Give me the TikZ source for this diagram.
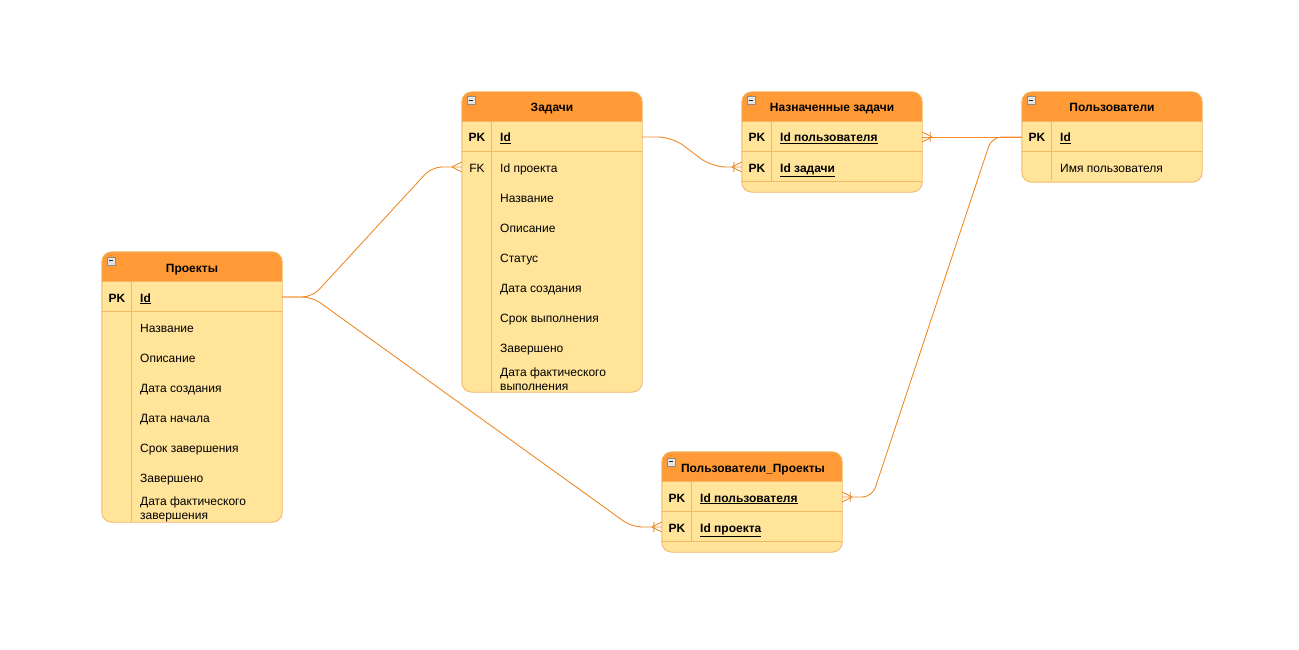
\documentclass[tikz,border=0pt]{standalone}
\usepackage{fontspec}
\setmainfont{Liberation Sans}
\usetikzlibrary{calc}
\definecolor{headfill}{HTML}{FF9A36}
\definecolor{bodyfill}{HTML}{FFE49A}
\definecolor{edgecol}{HTML}{F3B866}
\definecolor{linecol}{HTML}{F08C28}
\definecolor{iconfill}{HTML}{E4E4E4}
\definecolor{iconedge}{HTML}{8C8C8C}

\tikzset{
  every node/.style={font=\fontsize{12}{14}\selectfont, inner sep=0pt, text=black},
  tbl/.style={fill=bodyfill, minimum width=180pt, rounded corners=10pt},
  frame/.style={draw=edgecol, line width=0.9pt},
  title/.style={font=\fontsize{12}{14}\selectfont\bfseries, text height=10.5pt, text depth=0.5pt},
  keycol/.style={text height=10.5pt, text depth=0.5pt},
  pkkey/.style={keycol, font=\fontsize{12}{14}\selectfont\bfseries},
  field/.style={anchor=west, text height=10.5pt, text depth=0.5pt},
  pkfield/.style={field, font=\fontsize{12}{14}\selectfont\bfseries},
  twoline/.style={anchor=west, align=left},
  minusicon/.style={draw=iconedge, fill=iconfill, line width=0.6pt,
    minimum size=8pt,
    path picture={\draw[black!85, line width=0.9pt]
      ([xshift=1.8pt]path picture bounding box.west) --
      ([xshift=-1.8pt]path picture bounding box.east);}},
  conn/.style={draw=linecol, line width=0.9pt},
  pics/crowmany/.style={code={\draw[conn] (-10,0) -- (0,-5) (-10,0) -- (0,5);}},
  pics/crowonemany/.style={code={\draw[conn] (-10,0) -- (0,-5) (-10,0) -- (0,5) (-8,-5) -- (-8,5);}}
}

\begin{document}
\begin{tikzpicture}[x=1pt,y=-1pt]
\fill[white] (0,0) rectangle (1299,650);
\useasboundingbox (0,0) rectangle (1299,650);

% ---------- Проекты ----------
\node[tbl, minimum height=270pt] (proj) at (192,387) {};
\fill[headfill] ([yshift=-30pt]proj.north west) [rounded corners=10pt] -- (proj.north west) -- (proj.north east) [sharp corners] -- ([yshift=-30pt]proj.north east) -- cycle;
\draw[frame, rounded corners=10pt] (proj.north west) rectangle (proj.south east);
\draw[frame] ([yshift=-30pt]proj.north west) -- ([yshift=-30pt]proj.north east)
             ([yshift=-60pt]proj.north west) -- ([yshift=-60pt]proj.north east)
             ([xshift=30pt,yshift=-30pt]proj.north west) -- ([xshift=30pt]proj.south west);
\node[minusicon] (proj-icon) at ([xshift=9pt,yshift=-9pt]proj.north west) {};
\node[title] (proj-title) at (192,267) {Проекты};
\node[pkkey] (proj-pk) at (117,297) {PK};
\node[pkfield] (proj-id) at (140,297) {\underline{Id}};
\node[field] (proj-f1) at (140,327) {Название};
\node[field] (proj-f2) at (140,357) {Описание};
\node[field] (proj-f3) at (140,387) {Дата создания};
\node[field] (proj-f4) at (140,417) {Дата начала};
\node[field] (proj-f5) at (140,447) {Срок завершения};
\node[field] (proj-f6) at (140,477) {Завершено};
\node[twoline] (proj-f7) at (140,509) {Дата фактического\\завершения};

% ---------- Задачи ----------
\node[tbl, minimum height=300pt] (task) at (552,242) {};
\fill[headfill] ([yshift=-30pt]task.north west) [rounded corners=10pt] -- (task.north west) -- (task.north east) [sharp corners] -- ([yshift=-30pt]task.north east) -- cycle;
\draw[frame, rounded corners=10pt] (task.north west) rectangle (task.south east);
\draw[frame] ([yshift=-30pt]task.north west) -- ([yshift=-30pt]task.north east)
             ([yshift=-60pt]task.north west) -- ([yshift=-60pt]task.north east)
             ([xshift=30pt,yshift=-30pt]task.north west) -- ([xshift=30pt]task.south west);
\node[minusicon] (task-icon) at ([xshift=9pt,yshift=-9pt]task.north west) {};
\node[title] (task-title) at (552,107) {Задачи};
\node[pkkey] (task-pk) at (477,137) {PK};
\node[pkfield] (task-id) at (500,137) {\underline{Id}};
\node[keycol] (task-fk) at (477,167) {FK};
\node[field] (task-pid) at (500,167) {Id проекта};
\node[field] (task-f1) at (500,197) {Название};
\node[field] (task-f2) at (500,227) {Описание};
\node[field] (task-f3) at (500,257) {Статус};
\node[field] (task-f4) at (500,287) {Дата создания};
\node[field] (task-f5) at (500,317) {Срок выполнения};
\node[field] (task-f6) at (500,347) {Завершено};
\node[twoline] (task-f7) at (500,379) {Дата фактического\\выполнения};

% ---------- Назначенные задачи ----------
\node[tbl, minimum height=100pt] (asg) at (832,142) {};
\fill[headfill] ([yshift=-30pt]asg.north west) [rounded corners=10pt] -- (asg.north west) -- (asg.north east) [sharp corners] -- ([yshift=-30pt]asg.north east) -- cycle;
\draw[frame, rounded corners=10pt] (asg.north west) rectangle (asg.south east);
\draw[frame] ([yshift=-30pt]asg.north west) -- ([yshift=-30pt]asg.north east)
             ([yshift=-60pt]asg.north west) -- ([yshift=-60pt]asg.north east)
             ([yshift=-90pt]asg.north west) -- ([yshift=-90pt]asg.north east)
             ([xshift=30pt,yshift=-30pt]asg.north west) -- ([xshift=30pt,yshift=-90pt]asg.north west);
\node[minusicon] (asg-icon) at ([xshift=9pt,yshift=-9pt]asg.north west) {};
\node[title] (asg-title) at (832,107) {Назначенные задачи};
\node[pkkey] (asg-pk1) at (757,137) {PK};
\node[pkfield] (asg-uid) at (780,137) {\underline{Id пользователя}};
\node[pkkey] (asg-pk2) at (757,167) {PK};
\node[pkfield] (asg-tid) at (780,167) {\underline{Id задачи}};

% ---------- Пользователи ----------
\node[tbl, minimum height=90pt] (usr) at (1112,137) {};
\fill[headfill] ([yshift=-30pt]usr.north west) [rounded corners=10pt] -- (usr.north west) -- (usr.north east) [sharp corners] -- ([yshift=-30pt]usr.north east) -- cycle;
\draw[frame, rounded corners=10pt] (usr.north west) rectangle (usr.south east);
\draw[frame] ([yshift=-30pt]usr.north west) -- ([yshift=-30pt]usr.north east)
             ([yshift=-60pt]usr.north west) -- ([yshift=-60pt]usr.north east)
             ([xshift=30pt,yshift=-30pt]usr.north west) -- ([xshift=30pt,yshift=2pt]usr.south west);
\node[minusicon] (usr-icon) at ([xshift=9pt,yshift=-9pt]usr.north west) {};
\node[title] (usr-title) at (1112,107) {Пользователи};
\node[pkkey] (usr-pk) at (1037,137) {PK};
\node[pkfield] (usr-id) at (1060,137) {\underline{Id}};
\node[field] (usr-name) at (1060,167) {Имя пользователя};

% ---------- Пользователи_Проекты ----------
\node[tbl, minimum height=100pt] (up) at (752,502) {};
\fill[headfill] ([yshift=-30pt]up.north west) [rounded corners=10pt] -- (up.north west) -- (up.north east) [sharp corners] -- ([yshift=-30pt]up.north east) -- cycle;
\draw[frame, rounded corners=10pt] (up.north west) rectangle (up.south east);
\draw[frame] ([yshift=-30pt]up.north west) -- ([yshift=-30pt]up.north east)
             ([yshift=-60pt]up.north west) -- ([yshift=-60pt]up.north east)
             ([yshift=-90pt]up.north west) -- ([yshift=-90pt]up.north east)
             ([xshift=30pt,yshift=-30pt]up.north west) -- ([xshift=30pt,yshift=-90pt]up.north west);
\node[minusicon] (up-icon) at ([xshift=9pt,yshift=-10pt]up.north west) {};
\node[title] (up-title) at (753,467) {Пользователи\_Проекты};
\node[pkkey] (up-pk1) at (677,497) {PK};
\node[pkfield] (up-uid) at (700,497) {\underline{Id пользователя}};
\node[pkkey] (up-pk2) at (677,527) {PK};
\node[pkfield] (up-pid) at (700,527) {\underline{Id проекта}};

% ---------- Связи ----------
% Проекты -> Задачи (Id проекта)
\draw[conn, rounded corners=10pt] (proj.east |- proj-id) -- ++(30,0)
  -- ($(task.west |- task-pid)+(-30,0)$) -- (task.west |- task-pid);
\pic at (task.west |- task-pid) {crowmany};
% Проекты -> Пользователи_Проекты (Id проекта)
\draw[conn, rounded corners=10pt] (proj.east |- proj-id) -- ++(30,0)
  -- ($(up.west |- up-pid)+(-30,0)$) -- (up.west |- up-pid);
\pic at (up.west |- up-pid) {crowonemany};
% Задачи -> Назначенные задачи (Id задачи)
\draw[conn, rounded corners=14pt] (task.east |- task-id) -- ++(30,0)
  -- ($(asg.west |- asg-tid)+(-30,0)$) -- (asg.west |- asg-tid);
\pic at (asg.west |- asg-tid) {crowonemany};
% Пользователи -> Назначенные задачи (Id пользователя)
\draw[conn] (usr.west |- usr-id) -- (asg.east |- asg-uid);
\pic[rotate=180] at (asg.east |- asg-uid) {crowonemany};
% Пользователи -> Пользователи_Проекты (Id пользователя)
\draw[conn, rounded corners=10pt] (usr.west |- usr-id) -- ++(-30,0)
  -- ($(up.east |- up-uid)+(30,0)$) -- (up.east |- up-uid);
\pic[rotate=180] at (up.east |- up-uid) {crowonemany};
\end{tikzpicture}
\end{document}
